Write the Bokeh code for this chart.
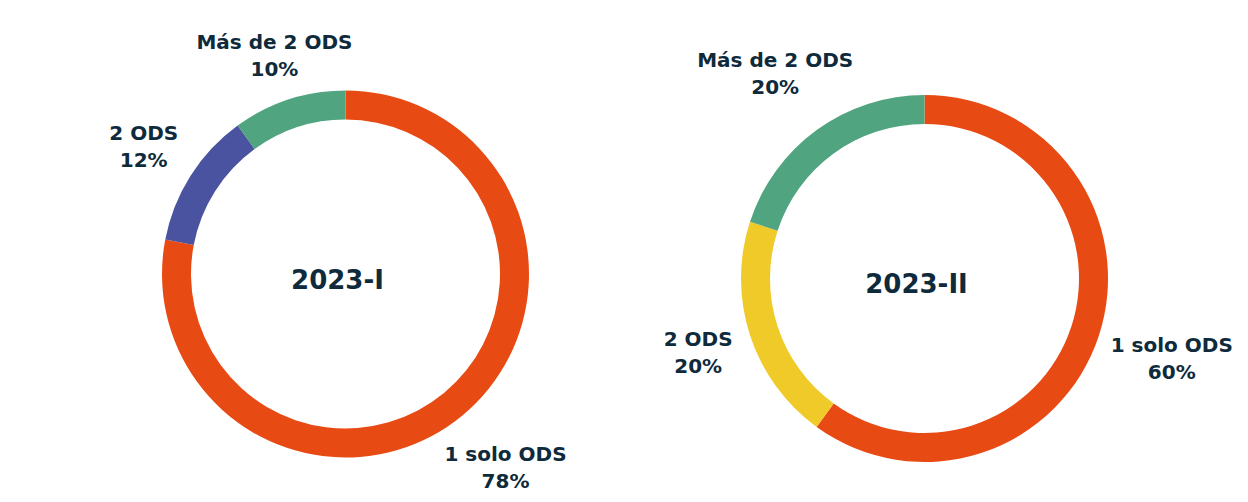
import math
from bokeh.plotting import figure
from bokeh.models import Range1d, ColumnDataSource
from bokeh.core.properties import value
from bokeh.embed import file_html
from bokeh.resources import INLINE

# ---- data ----
categories = ["1 solo ODS", "2 ODS", "Más de 2 ODS"]
periods = ["2023-I", "2023-II"]
values_2023_I = [78, 12, 10]
values_2023_II = [60, 20, 20]
series = [values_2023_I, values_2023_II]

# ---- styles / layout ----
colors = [["#E84A14", "#4A53A0", "#50A580"],
          ["#E84A14", "#F0CA28", "#50A580"]]
text_color = "#0E2A3B"
FONT = value("DejaVu Sans")
W, H = 1232, 494
centers_page = [(345.0, 273.5), (924.0, 278.0)]
outer_r, inner_r = 183.5, 154.5
label_dist = [[251, 239, 230], [260, 238, 254]]
LBL_SIZE, TTL_SIZE = 20, 26
SHIFT = 0.37  # empirical baseline correction (em)


def Y(page_y):
    return H - page_y


p = figure(width=W, height=H, x_range=Range1d(0, W), y_range=Range1d(0, H),
           output_backend="svg", toolbar_location=None, min_border=0)
p.axis.visible = False
p.grid.visible = False
p.outline_line_color = None
p.background_fill_color = "white"
p.border_fill_color = "white"

for k, vals in enumerate(series):
    cx, cyp = centers_page[k]
    cy = Y(cyp)
    total = float(sum(vals))
    starts, ends, xs, ys, fills = [], [], [], [], []
    l1x, l1y, l1t, l2y, l2t = [], [], [], [], []
    cum = 0.0
    for i, v in enumerate(vals):
        a_hi = math.pi / 2 - 2 * math.pi * cum / total
        cum += v
        a_lo = math.pi / 2 - 2 * math.pi * cum / total
        starts.append(a_lo)
        ends.append(a_hi)
        xs.append(cx)
        ys.append(cy)
        fills.append(colors[k][i])
        mid = (a_lo + a_hi) / 2
        lx = cx + label_dist[k][i] * math.cos(mid)
        ly_page = cyp - label_dist[k][i] * math.sin(mid)
        l1x.append(lx)
        l1y.append(Y(ly_page - 6 - SHIFT * LBL_SIZE))
        l2y.append(Y(ly_page + 21 - SHIFT * LBL_SIZE))
        l1t.append(categories[i])
        l2t.append(f"{v}%")
    src = ColumnDataSource(dict(x=xs, y=ys, start=starts, end=ends, color=fills))
    p.annular_wedge(x="x", y="y", inner_radius=inner_r, outer_radius=outer_r,
                    start_angle="start", end_angle="end", fill_color="color",
                    line_color=None, source=src)
    lsrc = ColumnDataSource(dict(x=l1x, y1=l1y, t1=l1t, y2=l2y, t2=l2t))
    for yy, tt in (("y1", "t1"), ("y2", "t2")):
        p.text(x="x", y=yy, text=tt, source=lsrc, text_font=FONT,
               text_font_style="bold", text_font_size=f"{LBL_SIZE}px",
               text_color=text_color, text_align="center",
               text_baseline="alphabetic")
    p.text(x=[cx - 8], y=[Y(cyp + 15.5 - SHIFT * TTL_SIZE)], text=[periods[k]],
           text_font=FONT, text_font_style="bold", text_font_size=f"{TTL_SIZE}px",
           text_color=text_color, text_align="center", text_baseline="alphabetic")

open("out.html", "w").write(file_html(p, INLINE))
